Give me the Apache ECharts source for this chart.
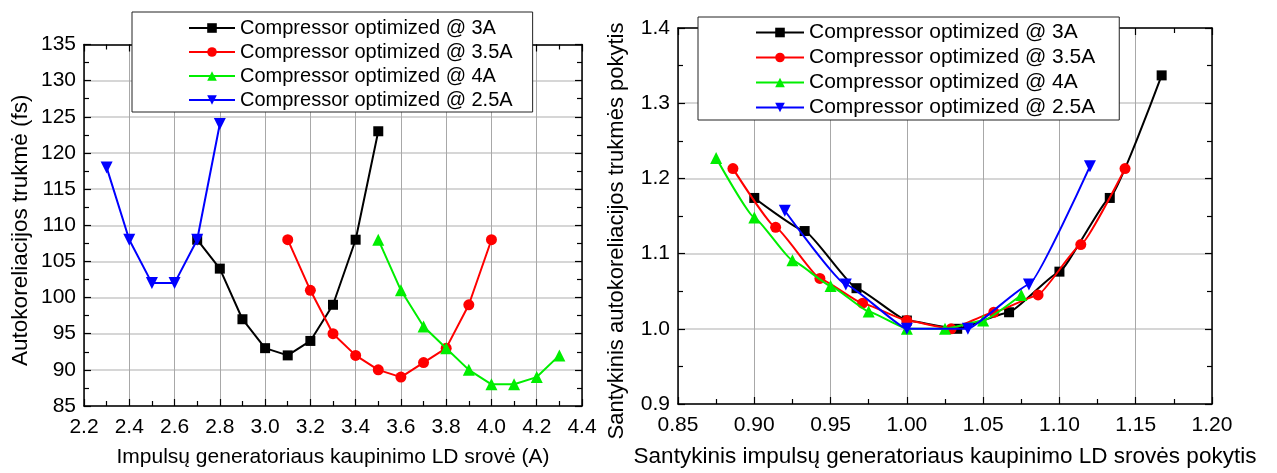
<!DOCTYPE html>
<html>
<head>
<meta charset="utf-8">
<script src="https://cdn.jsdelivr.net/npm/echarts@6/dist/echarts.min.js"></script>
<style>
  html, body { margin: 0; padding: 0; background: #fff; }
  #chart { width: 1277px; height: 473px; }
</style>
</head>
<body>
<div id="chart"></div>
<script>
// Series names (shared by both panels)
const seriesNames = [
  'Compressor optimized @ 3A',
  'Compressor optimized @ 3.5A',
  'Compressor optimized @ 4A',
  'Compressor optimized @ 2.5A'
];

// Left panel: pump current (A) vs autocorrelation duration (fs)
const current3A = [2.7, 2.8, 2.9, 3.0, 3.1, 3.2, 3.3, 3.4, 3.5];
const duration3A = [108, 104, 97, 93, 92, 94, 99, 108, 123];
const current35A = [3.1, 3.2, 3.3, 3.4, 3.5, 3.6, 3.7, 3.8, 3.9, 4.0];
const duration35A = [108, 101, 95, 92, 90, 89, 91, 93, 99, 108];
const current4A = [3.5, 3.6, 3.7, 3.8, 3.9, 4.0, 4.1, 4.2, 4.3];
const duration4A = [108, 101, 96, 93, 90, 88, 88, 89, 92];
const current25A = [2.3, 2.4, 2.5, 2.6, 2.7, 2.8];
const duration25A = [118, 108, 102, 102, 108, 124];

// Right panel: relative current change vs relative duration change
const relCurrent3A = [0.900, 0.933, 0.967, 1.000, 1.033, 1.067, 1.100, 1.133, 1.167];
const relDuration3A = [1.174, 1.130, 1.054, 1.011, 1.000, 1.022, 1.076, 1.174, 1.337];
const relCurrent35A = [0.886, 0.914, 0.943, 0.971, 1.000, 1.029, 1.057, 1.086, 1.114, 1.143];
const relDuration35A = [1.213, 1.135, 1.067, 1.034, 1.011, 1.000, 1.022, 1.045, 1.112, 1.213];
const relCurrent4A = [0.875, 0.900, 0.925, 0.950, 0.975, 1.000, 1.025, 1.050, 1.075];
const relDuration4A = [1.227, 1.148, 1.091, 1.057, 1.023, 1.000, 1.000, 1.011, 1.045];
const relCurrent25A = [0.92, 0.96, 1.00, 1.04, 1.08, 1.12];
const relDuration25A = [1.157, 1.059, 1.000, 1.000, 1.059, 1.216];

const colors = ['#000000', '#ff0000', '#00ee00', '#0000ff'];
const symbols = ['rect', 'circle', 'triangle', 'path://M0,0 L10,0 L5,9 Z'];
const symbolSizes = [10, 11, 12, 12];

const FONT = "'Liberation Sans', Arial, sans-serif";

const pairs = (xs, ys) => xs.map((x, i) => [x, ys[i]]);

const leftData = [
  pairs(current3A, duration3A),
  pairs(current35A, duration35A),
  pairs(current4A, duration4A),
  pairs(current25A, duration25A)
];
const rightData = [
  pairs(relCurrent3A, relDuration3A),
  pairs(relCurrent35A, relDuration35A),
  pairs(relCurrent4A, relDuration4A),
  pairs(relCurrent25A, relDuration25A)
];

const frameLine = { show: true, onZero: false, lineStyle: { color: '#000', width: 1.5 } };
const tickIn = { show: true, inside: true, length: 7, lineStyle: { color: '#000', width: 1.2 } };
const minorIn = { show: true, splitNumber: 2, length: 5, lineStyle: { color: '#000', width: 1.2 } };
const labelStyle = { color: '#000', fontSize: 21, fontFamily: FONT };

function mainX(grid, min, max, interval, digits, name, nameSize) {
  return {
    gridIndex: grid, type: 'value', position: 'bottom', min, max, interval,
    axisLine: frameLine, axisTick: tickIn, minorTick: minorIn,
    splitLine: { show: true, lineStyle: { color: '#a8a8a8', width: 1 } },
    axisLabel: Object.assign({ margin: 11, formatter: v => v.toFixed(digits), showMinLabel: true, showMaxLabel: true }, labelStyle),
    name, nameLocation: 'middle', nameGap: 41,
    nameTextStyle: { color: '#000', fontSize: nameSize, fontFamily: FONT }
  };
}
function mirrorX(grid, min, max, interval) {
  return {
    gridIndex: grid, type: 'value', position: 'top', min, max, interval,
    axisLine: frameLine, axisTick: tickIn, minorTick: minorIn,
    splitLine: { show: false }, axisLabel: { show: false }
  };
}
function mainY(grid, min, max, interval, digits, name, gap, shift, nameSize) {
  return {
    gridIndex: grid, type: 'value', position: 'left', min, max, interval,
    axisLine: frameLine, axisTick: tickIn, minorTick: minorIn,
    splitLine: { show: true, lineStyle: { color: '#c8c8c8', width: 1.6 } },
    axisLabel: Object.assign({ margin: 8, formatter: v => v.toFixed(digits) }, labelStyle),
    name, nameLocation: 'middle', nameGap: gap,
    nameTextStyle: { color: '#000', fontSize: nameSize, fontFamily: FONT, padding: [0, shift, 0, 0] }
  };
}
function mirrorY(grid, min, max, interval) {
  return {
    gridIndex: grid, type: 'value', position: 'right', min, max, interval,
    axisLine: frameLine, axisTick: tickIn, minorTick: minorIn,
    splitLine: { show: false }, axisLabel: { show: false }
  };
}

function makeSeries(dataSets, xIdx, yIdx, smooth) {
  return dataSets.map((d, i) => ({
    name: seriesNames[i], type: 'line', data: d,
    xAxisIndex: xIdx, yAxisIndex: yIdx,
    smooth: smooth, smoothMonotone: smooth ? 'x' : undefined,
    symbol: symbols[i], symbolSize: symbolSizes[i],
    lineStyle: { color: colors[i], width: 2 },
    itemStyle: { color: colors[i] },
    emphasis: { disabled: true },
    animation: false, z: 3 + i
  }));
}

function legendBox(left, top, fontSize, itemWidth, gap, padding) {
  return {
    orient: 'vertical', left, top, data: seriesNames,
    itemWidth, itemHeight: 12, itemGap: gap, padding,
    backgroundColor: '#fff', borderColor: '#222', borderWidth: 1,
    textStyle: { color: '#000', fontSize, fontFamily: FONT },
    selectedMode: false, z: 10
  };
}

const chart = echarts.init(document.getElementById('chart'), null, { renderer: 'canvas' });
chart.setOption({
  backgroundColor: '#fff',
  animation: false,
  grid: [
    { left: 84, top: 44.5, width: 498, height: 366.5 },
    { left: 678, top: 28, width: 534, height: 383 }
  ],
  xAxis: [
    mainX(0, 2.2, 4.4, 0.2, 1, 'Impulsų generatoriaus kaupinimo LD srovė (A)', 21),
    mirrorX(0, 2.2, 4.4, 0.2),
    mainX(1, 0.85, 1.2, 0.05, 2, 'Santykinis impulsų generatoriaus kaupinimo LD srovės pokytis', 22.5),
    mirrorX(1, 0.85, 1.2, 0.05)
  ],
  yAxis: [
    mainY(0, 85, 135, 5, 0, 'Autokoreliacijos trukmė (fs)', 52, 10, 22.5),
    mirrorY(0, 85, 135, 5),
    mainY(1, 0.9, 1.4, 0.1, 1, 'Santykinis autokoreliacijos trukmės pokytis', 50, 30, 22),
    mirrorY(1, 0.9, 1.4, 0.1)
  ],
  legend: [
    legendBox(132, 12, 20, 46, 4, [6, 20, 2, 56]),
    legendBox(698, 17, 21, 48, 4, [5, 24, 2, 57])
  ],
  series: [].concat(
    makeSeries(leftData, 0, 0, false),
    makeSeries(rightData, 2, 2, 0.12)
  )
});
</script>
</body>
</html>
